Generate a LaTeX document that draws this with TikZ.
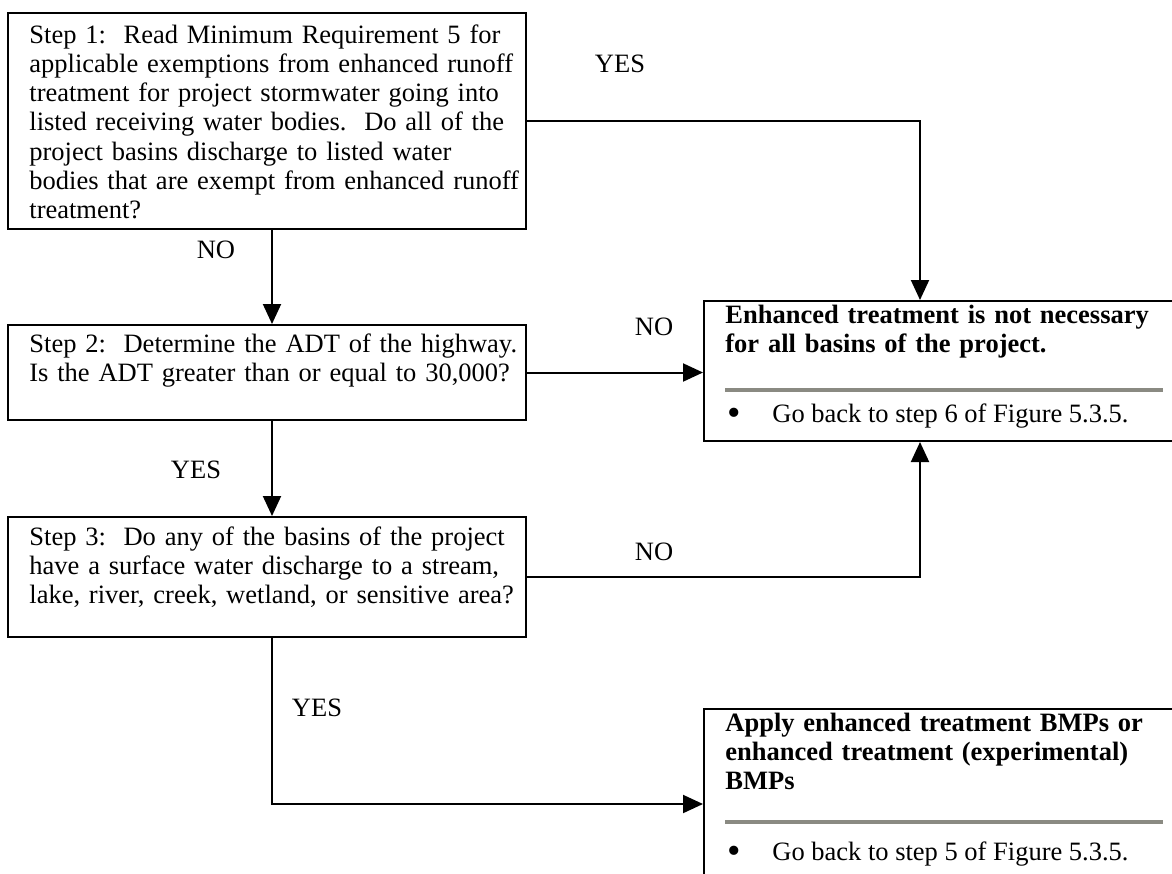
\documentclass[tikz,border=0pt]{standalone}
\usepackage{fontspec}
\setmainfont{Liberation Serif}
\usetikzlibrary{arrows.meta,positioning}

\definecolor{rulegray}{RGB}{138,138,130}

\begin{document}
\begin{tikzpicture}[
    x=0.5pt, y=-0.5pt,
    stepbox/.style={
        rectangle,
        draw=black,
        line width=1pt,
        anchor=north west,
        inner sep=0pt,
        minimum width=259pt
    },
    resultbox/.style={
        rectangle,
        draw=black,
        line width=1pt,
        anchor=north west,
        inner sep=0pt,
        minimum width=250pt
    },
    steptext/.style={
        anchor=base west,
        align=left,
        inner sep=0pt,
        text width=250pt,
        font=\fontsize{13.25pt}{14.65pt}\selectfont
    },
    resulttext/.style={
        steptext,
        font=\fontsize{13.25pt}{14.65pt}\selectfont\bfseries
    },
    bullet/.style={
        anchor=base west,
        inner sep=0pt,
        font=\fontsize{13.25pt}{14.65pt}\selectfont
    },
    answer/.style={
        inner sep=0pt,
        font=\fontsize{13.25pt}{14.65pt}\selectfont
    },
    rule/.style={
        draw=rulegray,
        line width=1.7pt
    },
    flow/.style={
        draw,
        line width=1pt,
        -{Triangle[length=10pt, width=9pt]}
    }
]
\useasboundingbox (0,0) rectangle (1172,873);
\clip (0,0) rectangle (1172,873);

% Steps
\node[stepbox, minimum height=108pt] (step1) at (7,12) {};
\node[steptext] (step1txt) at ([shift={(22,31)}]step1.north west)
    {Step 1:\ \ Read Minimum Requirement 5 for\\
     applicable exemptions from enhanced runoff\\
     treatment for project stormwater going into\\
     listed receiving water bodies.\ \ Do all of the\\
     project basins discharge to listed water\\
     bodies that are exempt from enhanced runoff\\
     treatment?};

\node[stepbox, minimum height=47.5pt] (step2) at (7,324) {};
\node[steptext] (step2txt) at ([shift={(22,28)}]step2.north west)
    {Step 2:\ \ Determine the ADT of the highway.\\
     Is the ADT greater than or equal to 30,000?};

\node[stepbox, minimum height=60pt] (step3) at (7,516) {};
\node[steptext] (step3txt) at ([shift={(22,29)}]step3.north west)
    {Step 3:\ \ Do any of the basins of the project\\
     have a surface water discharge to a stream,\\
     lake, river, creek, wetland, or sensitive area?};

% Results
\node[resultbox, minimum height=70pt] (result1) at (703,300) {};
\node[resulttext] (result1txt) at ([shift={(22,23)}]result1.north west)
    {Enhanced treatment is not necessary\\
     for all basins of the project.};
\draw[rule] ([shift={(22,90)}]result1.north west) -- ++(438,0);
\node[bullet] (result1go) at ([shift={(24,122)}]result1.north west)
    {\makebox[22.5pt][l]{\raisebox{-0.12em}{\scalebox{1.45}{\textbullet}}}Go back to step 6 of Figure 5.3.5.};

\node[resultbox, minimum height=95pt] (apply) at (703,708) {};
\node[resulttext] (applytxt) at ([shift={(22,23)}]apply.north west)
    {Apply enhanced treatment BMPs or\\
     enhanced treatment (experimental)\\
     BMPs};
\draw[rule] ([shift={(22,114)}]apply.north west) -- ++(438,0);
\node[bullet] (applygo) at ([shift={(24,152)}]apply.north west)
    {\makebox[22.5pt][l]{\raisebox{-0.12em}{\scalebox{1.45}{\textbullet}}}Go back to step 5 of Figure 5.3.5.};

% Answers
\node[answer] (yes1) at (620,64) {YES};
\node[answer] (no1) at (216,250) {NO};
\node[answer] (no2) at (654,327) {NO};
\node[answer] (yes2) at (196,470) {YES};
\node[answer] (no3) at (654,552) {NO};
\node[answer] (yes3) at (317,708) {YES};

% Connectors
\coordinate (spine) at (272,0);
\coordinate (drop) at (920,0);
\draw[flow] (step1.south -| spine) -- (step2.north -| spine);
\draw[flow] (step2.south -| spine) -- (step3.north -| spine);
\draw[flow] (step1.east) -| (result1.north -| drop);
\draw[flow] (step2.east) -- (step2.east -| result1.west);
\draw[flow] (step3.east) -| (result1.south -| drop);
\draw[flow] (step3.south -| spine) |- (apply.west);

\end{tikzpicture}
\end{document}
